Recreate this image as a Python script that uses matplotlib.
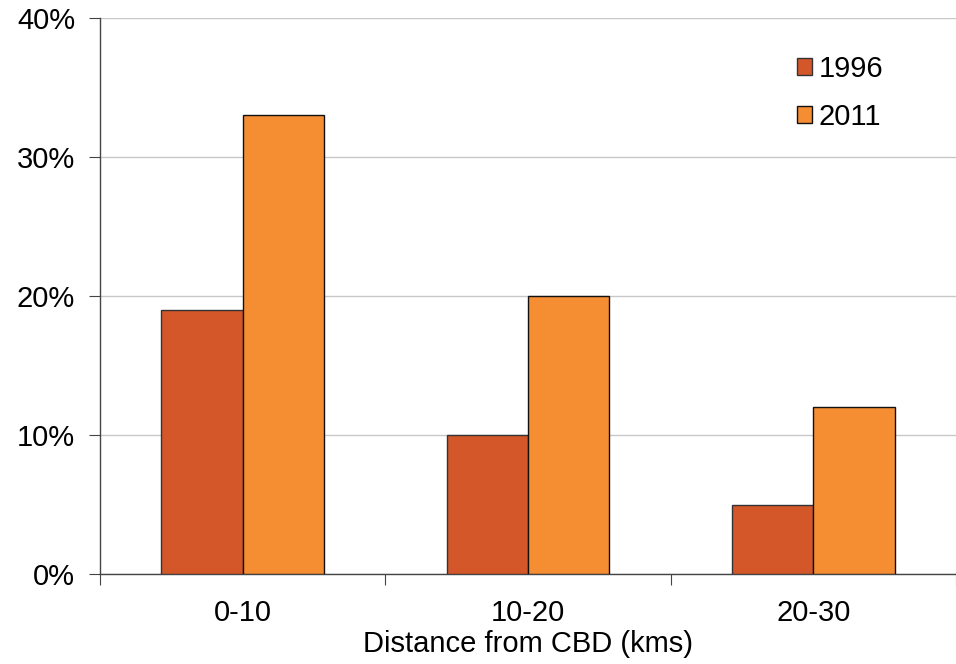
import matplotlib
matplotlib.use("Agg")
import matplotlib.pyplot as plt
import numpy as np
from matplotlib.ticker import FuncFormatter

categories = ["0-10", "10-20", "20-30"]
series_names = ["1996", "2011"]
values_1996 = [19, 10, 5]
values_2011 = [33, 20, 12]
yticks = [0, 10, 20, 30, 40]

plt.rcParams['font.family'] = ['Liberation Sans', 'DejaVu Sans']
FS = 21

fig = plt.figure(figsize=(9.56, 6.64), dpi=100)
ax = fig.add_axes([100/956, 90/664, 856/956, (574-18)/664])

x = np.arange(len(categories))
w = 0.285
ax.bar(x - w/2, values_1996, width=w, color='#D4572A', edgecolor='#333333', linewidth=1, label=series_names[0], zorder=3)
ax.bar(x + w/2, values_2011, width=w, color='#F58D33', edgecolor='#111111', linewidth=1, label=series_names[1], zorder=3)

ax.set_ylim(0, 40)
ax.set_yticks(yticks)
ax.yaxis.set_major_formatter(FuncFormatter(lambda v, p: f"{int(v)}%"))
ax.set_xlim(-0.5, -0.5 + 856/288.6)
ax.set_xticks(np.arange(-0.5, len(categories), 1.0))
ax.set_xticklabels([])
ax.set_xticks(x, minor=True)
ax.set_xticklabels(categories, minor=True)
ax.tick_params(axis='x', which='minor', length=0, pad=18, labelsize=FS)
ax.tick_params(axis='x', which='major', length=8, direction='out', color='#444444')
ax.tick_params(axis='y', length=8, direction='out', color='#444444', labelsize=FS, pad=10)

ax.yaxis.grid(True, color='#C8C8C8', linewidth=1, zorder=0)
ax.set_axisbelow(True)
for s in ['top', 'right']:
    ax.spines[s].set_visible(False)
for s in ['left', 'bottom']:
    ax.spines[s].set_color('#444444')
    ax.spines[s].set_linewidth(1)

ax.set_xlabel("Distance from CBD (kms)", fontsize=FS, labelpad=2)

leg = ax.legend(loc='upper left', bbox_to_anchor=(797/956, 1 - 55/664), bbox_transform=fig.transFigure,
                frameon=False, fontsize=FS, handlelength=0.5, handleheight=0.5, handletextpad=0.25,
                labelspacing=0.69, borderpad=0, borderaxespad=0)

fig.savefig("out.png", dpi=100)
